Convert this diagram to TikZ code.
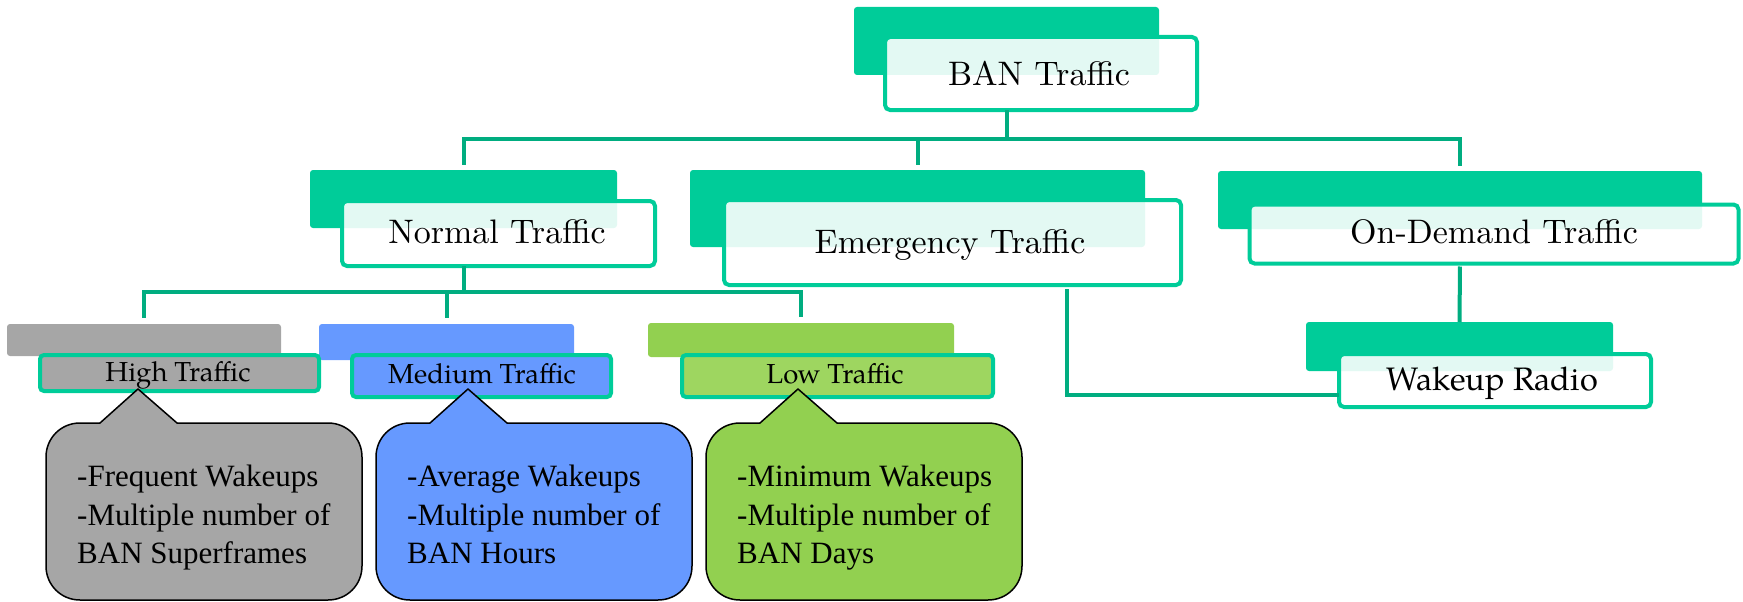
\documentclass[tikz,border=0pt]{standalone}
\usepackage{fontspec}
\newfontfamily\tnr{Liberation Serif}
\newfontfamily\lmten{lmroman10-regular.otf}
\newfontfamily\pala{texgyrepagella-regular.otf}
\usetikzlibrary{calc}
\definecolor{bkg}{HTML}{00CC99}
\definecolor{brd}{HTML}{00CC99}
\definecolor{lnk}{HTML}{00AD80}
\definecolor{gry}{HTML}{A6A6A6}
\definecolor{blu}{HTML}{6699FF}
\definecolor{grn}{HTML}{92D050}
\definecolor{grnl}{HTML}{9ED660}
\tikzset{
 backbox/.style={fill=#1, draw=none, rounded corners=3pt, inner sep=0pt, outer sep=0pt},
 frontbox/.style={draw=brd, line width=4pt, rounded corners=5pt, fill=white, fill opacity=0.89, inner sep=0pt, outer sep=0pt},
 lowbox/.style={draw=brd, line width=4pt, rounded corners=4pt, fill=#1, inner sep=0pt, outer sep=0pt},
 conn/.style={draw=lnk, line width=4pt},
 bigtext/.style={anchor=base, inner sep=0pt, font=\lmten\fontsize{34}{40}\selectfont},
 midtext/.style={anchor=base, inner sep=0pt, font=\pala\fontsize{27.5}{32}\selectfont},
 btext/.style={anchor=base west, inner sep=0pt, font=\tnr\fontsize{31}{39}\selectfont},
 bubble/.style={draw=black, line width=1.5pt, line join=round},
}
\newcommand{\mybubble}[6]{%
 \filldraw[bubble, fill=#2] (#1+92,389) -- (#1+131,423) -- (#1+282,423)
   .. controls (#1+301,423) and (#1+316,438) .. (#1+316,457) -- (#1+316,566)
   .. controls (#1+316,585) and (#1+301,600) .. (#1+282,600) -- (#1+34,600)
   .. controls (#1+15,600) and (#1,585) .. (#1,566) -- (#1,457)
   .. controls (#1,438) and (#1+15,423) .. (#1+34,423) -- (#1+54,423) -- cycle;
 \node[btext] (#3a) at (#1+31,486) {#4};
 \node[btext] (#3b) at (#1+31,525) {#5};
 \node[btext] (#3c) at (#1+31,563) {#6};
}
\begin{document}
\begin{tikzpicture}[x=1pt,y=-1pt]
\useasboundingbox (0,0) rectangle (1743,602);

% back boxes
\node[backbox=bkg, minimum width=305pt, minimum height=68pt] (banB) at (1006.5,41) {};
\node[backbox=bkg, minimum width=307pt, minimum height=58pt] (normB) at (463.5,199) {};
\node[backbox=bkg, minimum width=455pt, minimum height=77pt] (emB) at (917.5,208.5) {};
\node[backbox=bkg, minimum width=484pt, minimum height=58pt] (odB) at (1460,200) {};
\node[backbox=bkg, minimum width=307pt, minimum height=49pt] (wkB) at (1459.5,346.5) {};
\node[backbox=gry, minimum width=274pt, minimum height=32pt] (hiB) at (144,340) {};
\node[backbox=blu, minimum width=255pt, minimum height=36pt] (meB) at (446.5,342) {};
\node[backbox=grn, minimum width=306pt, minimum height=34pt] (loB) at (801,340) {};

% front boxes
\node[frontbox, minimum width=312pt, minimum height=73pt] (banF) at (1041,73.5) {};
\node[frontbox, minimum width=313pt, minimum height=65pt] (normF) at (498.5,233.5) {};
\node[frontbox, minimum width=457pt, minimum height=85pt] (emF) at (952.5,242.5) {};
\node[frontbox, minimum width=489pt, minimum height=59pt] (odF) at (1494,234) {};
\node[frontbox, minimum width=312pt, minimum height=53pt] (wkF) at (1495,380.5) {};
\node[lowbox=gry, minimum width=279pt, minimum height=36pt] (hiF) at (179.5,373) {};
\node[lowbox=blu, minimum width=259pt, minimum height=42pt] (meF) at (481.5,376) {};
\node[lowbox=grnl, minimum width=311pt, minimum height=42pt] (loF) at (837.5,376) {};

% connectors
\coordinate (j1) at (1006.5,139);
\draw[conn] (banF.south -| banB.center) -- (j1);
\draw[conn, shorten >=5pt] (j1) -| (normB.north);
\draw[conn, shorten >=5pt] (j1) -| (emB.north);
\draw[conn, shorten >=5pt] (j1) -| (odB.north);
\coordinate (j2) at (463.5,292);
\draw[conn] (normF.south -| normB.center) -- (j2);
\draw[conn, shorten >=6pt] (j2) -| (hiB.north);
\draw[conn, shorten >=6pt] (j2) -| (meB.north);
\draw[conn, shorten >=6pt] (j2) -| (loB.north);
\draw[conn] ([xshift=114.5pt,yshift=-4pt]emF.south) |- ([yshift=-14.5pt]wkF.west);
\draw[conn, shorten <=3pt] (odF.south -| odB.center) -- (wkB.north);

% texts
\node[bigtext] (banT) at (1039,85) {BAN Traffic};
\node[bigtext] (normT) at (497,243) {Normal Traffic};
\node[bigtext] (emT) at (950,253) {Emergency Traffic};
\node[bigtext] (odT) at (1494,243) {On-Demand Traffic};
\node[midtext, font=\pala\fontsize{32.5}{40}\selectfont] (wkT) at (1492,390) {Wakeup Radio};
\node[midtext] (hiT) at (178,381) {High Traffic};
\node[midtext] (meT) at (482,383) {Medium Traffic};
\node[midtext] (loT) at (835,383) {Low Traffic};

% callouts
\mybubble{46}{gry}{hb}{-Frequent Wakeups}{-Multiple number of}{BAN Superframes}
\mybubble{376}{blu}{mb}{-Average Wakeups}{-Multiple number of}{BAN Hours}
\mybubble{706}{grn}{lb}{-Minimum Wakeups}{-Multiple number of}{BAN Days}
\end{tikzpicture}
\end{document}
